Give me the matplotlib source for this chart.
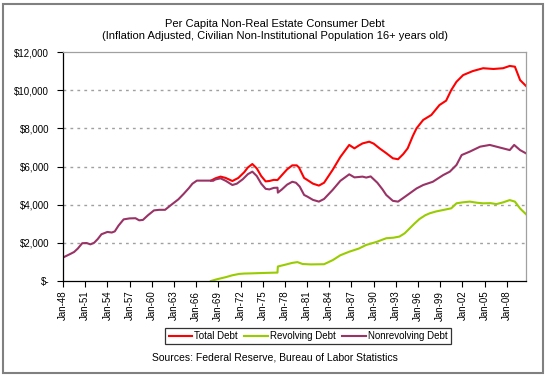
import matplotlib
matplotlib.use("Agg")
import matplotlib.pyplot as plt
from matplotlib.patches import Rectangle
from matplotlib.ticker import FuncFormatter

plt.rcParams['font.family'] = ['Liberation Sans', 'DejaVu Sans']

# ---- data ----
nonrev_years = [1948.0, 1949.0, 1949.5, 1950.0, 1950.6, 1951.2, 1951.7, 1952.2, 1952.7, 1953.2,
                1954.0, 1954.6, 1955.0, 1955.5, 1956.2, 1957.0, 1957.8, 1958.3, 1958.8, 1959.5,
                1960.3, 1961.0, 1961.8, 1962.5, 1963.0, 1963.6, 1964.3, 1965.0, 1965.5, 1966.1,
                1967.0, 1967.9, 1968.3, 1968.6, 1969.3, 1970.0, 1970.9, 1971.5, 1972.3, 1973.0,
                1973.6, 1974.2, 1974.8, 1975.4, 1975.9, 1976.5, 1977.0, 1977.05, 1977.6, 1978.3,
                1979.0, 1979.5, 1980.0, 1980.6, 1981.05, 1981.8, 1982.6, 1983.3, 1984.45, 1985.5,
                1986.7, 1987.4, 1988.0, 1988.5, 1989.0, 1989.6, 1990.5, 1991.2, 1991.7, 1992.6,
                1993.3, 1994.0, 1994.9, 1995.8, 1996.7, 1998.0, 1999.4, 2000.3, 2001.2, 2001.9,
                2003.0, 2004.4, 2005.7, 2007.0, 2008.4, 2009.0, 2009.8, 2010.6]
nonrev_values = [1230, 1420, 1520, 1700, 1980, 1990, 1920, 2000, 2200, 2450,
                 2570, 2540, 2600, 2900, 3230, 3280, 3290, 3180, 3200, 3450,
                 3700, 3730, 3730, 3950, 4100, 4280, 4560, 4860, 5100, 5260,
                 5260, 5260, 5250, 5320, 5380, 5250, 5030, 5100, 5330, 5600,
                 5730, 5500, 5100, 4830, 4800, 4880, 4890, 4630, 4800, 5050,
                 5200, 5150, 4950, 4510, 4420, 4250, 4160, 4300, 4770, 5250,
                 5590, 5430, 5450, 5470, 5420, 5480, 5150, 4800, 4510, 4200,
                 4160, 4350, 4600, 4850, 5030, 5200, 5550, 5730, 6080, 6600,
                 6780, 7040, 7130, 7000, 6860, 7130, 6860, 6690]

rev_years = [1968.0, 1968.8, 1970.0, 1970.9, 1971.8, 1972.5, 1973.5, 1975.0, 1976.8, 1977.0,
             1977.05, 1978.0, 1979.0, 1979.7, 1980.4, 1981.5, 1983.3, 1984.5, 1985.5, 1986.7,
             1988.0, 1989.0, 1990.4, 1991.7, 1992.7, 1993.5, 1994.2, 1994.85, 1995.5, 1996.2,
             1997.0, 1997.6, 1998.5, 1999.4, 2000.5, 2001.2, 2002.0, 2003.0, 2004.0, 2004.8,
             2005.8, 2006.6, 2007.5, 2008.4, 2009.1, 2009.8, 2010.6]
rev_values = [0, 90, 200, 300, 370, 390, 400, 420, 440, 440,
              760, 850, 950, 990, 890, 870, 880, 1100, 1350, 1535,
              1700, 1890, 2050, 2240, 2270, 2330, 2500, 2750, 3000, 3250,
              3450, 3550, 3650, 3720, 3810, 4070, 4120, 4160, 4100, 4070,
              4080, 4030, 4120, 4240, 4160, 3800, 3500]

total_years = [1968.0, 1968.6, 1969.3, 1970.0, 1970.9, 1971.7, 1972.5, 1973.0, 1973.6, 1974.2,
               1974.8, 1975.4, 1975.9, 1976.5, 1977.0, 1977.6, 1978.3, 1979.0, 1979.6, 1979.9,
               1980.6, 1981.05, 1981.8, 1982.6, 1983.3, 1984.45, 1985.5, 1986.7, 1987.4, 1988.0,
               1988.5, 1989.4, 1990.0, 1990.8, 1991.7, 1992.6, 1993.3, 1994.0, 1994.6, 1995.3,
               1995.8, 1996.7, 1997.8, 1998.9, 1999.8, 2000.5, 2001.2, 2002.1, 2003.4, 2004.8,
               2006.2, 2007.5, 2008.4, 2009.1, 2009.8, 2010.6]
total_values = [5260, 5380, 5470, 5400, 5240, 5400, 5700, 5950, 6130, 5900,
                5500, 5220, 5240, 5300, 5290, 5550, 5850, 6060, 6060, 5950,
                5400, 5290, 5100, 5000, 5150, 5820, 6500, 7130, 6950, 7100,
                7210, 7300, 7200, 6950, 6700, 6430, 6380, 6650, 6950, 7600,
                8000, 8440, 8700, 9220, 9450, 10010, 10440, 10790, 11000, 11150,
                11110, 11150, 11270, 11230, 10530, 10220]

tick_years = list(range(1948, 2009, 3))
tick_labels = ["Jan-%02d" % (y % 100) for y in tick_years]
y_ticks = [0, 2000, 4000, 6000, 8000, 10000, 12000]

title = "Per Capita Non-Real Estate Consumer Debt\n(Inflation Adjusted, Civilian Non-Institutional Population 16+ years old)"
source = "Sources: Federal Reserve, Bureau of Labor Statistics"

# ---- figure ----
W, H = 550, 378
fig = plt.figure(figsize=(W / 100, H / 100), dpi=100)
fig.patch.set_facecolor("white")

# outer frame
fig.add_artist(Rectangle((3 / W, 1 - 373 / H), 540 / W, 369 / H, transform=fig.transFigure,
                         fill=False, edgecolor="#808080", linewidth=1.5))

ax = fig.add_axes([63 / W, 1 - 281 / H, (526 - 63) / W, (281 - 52) / H])

ax.plot(total_years, total_values, color="#ff0000", lw=1.5, label="Total Debt")
ax.plot(rev_years, rev_values, color="#99cc00", lw=1.5, label="Revolving Debt")
ax.plot(nonrev_years, nonrev_values, color="#993366", lw=1.5, label="Nonrevolving Debt")

ax.set_xlim(1948, 2010.6)
ax.set_ylim(0, 12000)
ax.set_xticks(tick_years)
ax.set_xticklabels(tick_labels, rotation=90, fontsize=7)
ax.set_yticks(y_ticks)
ax.yaxis.set_major_formatter(FuncFormatter(lambda v, p: "$-" if v == 0 else "${:,.0f}".format(v)))
ax.tick_params(axis="y", labelsize=7, length=4, width=0.8, direction="out", pad=6)
ax.tick_params(axis="x", length=4, width=0.8, direction="out", pad=3)

for v in y_ticks[1:-1]:
    ax.axhline(v, color="#a0a0a0", lw=1, ls=(0, (2, 3)), zorder=0)

ax.spines["left"].set_color("black")
ax.spines["bottom"].set_color("black")
ax.spines["top"].set_color("#a0a0a0")
ax.spines["right"].set_color("#a0a0a0")
for s in ax.spines.values():
    s.set_linewidth(0.9)

fig.text(0.5, 1 - 30 / H, title, ha="center", va="center", fontsize=8, linespacing=1.35)

leg = fig.legend(loc="center", bbox_to_anchor=(308 / W, 1 - 336 / H), ncol=3, fontsize=7,
                 frameon=True, fancybox=False, edgecolor="black", handlelength=2.4,
                 handletextpad=0.2, columnspacing=0.7, borderpad=0.35, borderaxespad=0)
leg.get_frame().set_linewidth(0.9)

fig.text(0.5, 1 - 358 / H, source, ha="center", va="center", fontsize=7.5)

fig.savefig("out.png", dpi=100)
